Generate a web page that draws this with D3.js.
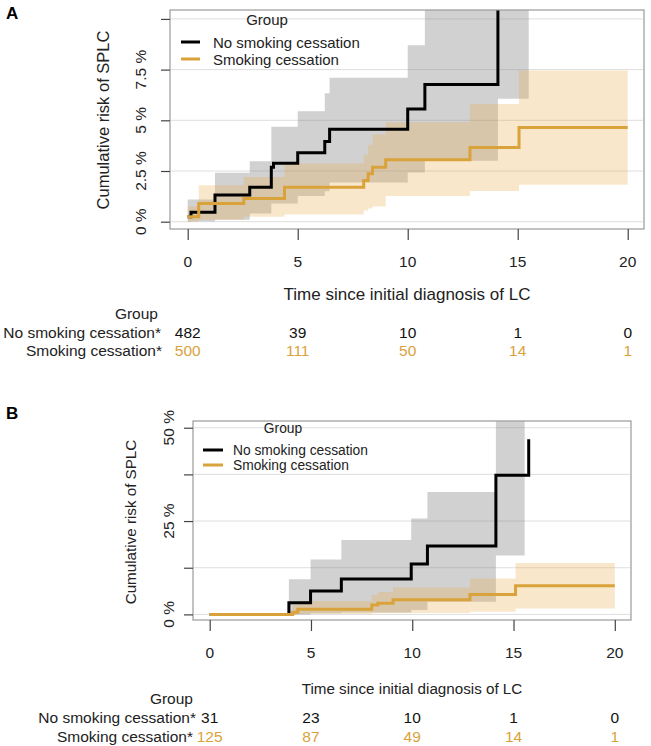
<!DOCTYPE html>
<html>
<head>
<meta charset="utf-8">
<script src="https://cdn.jsdelivr.net/npm/d3@7"></script>
<style>
  html, body { margin: 0; padding: 0; background: #fff; }
  svg { display: block; font-family: "Liberation Sans", Arial, Helvetica, sans-serif; }
</style>
</head>
<body>
<svg id="chart" width="651" height="746"></svg>
<script>
// ---------------- DATA ----------------
const groups = ["No smoking cessation", "Smoking cessation"];
const tableLabels = ["No smoking cessation*", "Smoking cessation*"];
const xTicks = [0, 5, 10, 15, 20];

// Panel A
const yTicksA = [0, 2.5, 5, 7.5, 10];
const yTickLabelsA = ["0 %", "2.5 %", "5 %", "7.5 %", ""];
const timeA_no = [0, 0.15, 1.24, 2.82, 3.8, 3.9, 5.0, 6.23, 6.45, 10.0, 10.78, 14.1, 15.5];
const riskA_no = [0.25, 0.47, 1.32, 1.70, 2.68, 2.88, 3.40, 3.95, 4.56, 5.56, 6.77, 13.0, 13.0];
const lowA_no  = [0, 0.02, 0.1, 0.4, 0.9, 0.9, 1.27, 1.5, 1.93, 2.43, 3.0, 6.06, 6.06];
const upA_no   = [1.1, 1.1, 2.42, 2.98, 4.68, 4.68, 5.45, 6.33, 7.1, 8.7, 14, 14, 14];
const timeA_ce = [0, 0.5, 2.55, 4.4, 8.0, 8.2, 8.4, 9.0, 12.83, 15.06, 20.0];
const riskA_ce = [0.25, 0.9, 1.15, 1.70, 2.03, 2.36, 2.69, 3.05, 3.66, 4.65, 4.65];
const lowA_ce  = [0, 0.1, 0.25, 0.35, 0.55, 0.65, 0.75, 1.27, 1.52, 1.82, 1.82];
const upA_ce   = [0.75, 1.8, 2.2, 2.87, 3.3, 3.8, 4.3, 4.9, 5.8, 7.46, 7.46];
const nRiskA_no = [482, 39, 10, 1, 0];
const nRiskA_ce = [500, 111, 50, 14, 1];

// Panel B
const yTicksB = [0, 12.5, 25, 37.5, 50];
const yTickLabelsB = ["0 %", "", "25 %", "", "50 %"];
const timeB_no = [0, 3.91, 4.98, 6.5, 9.95, 10.75, 14.13, 15.75];
const riskB_no = [0, 3.1, 6.24, 9.46, 13.5, 18.3, 37.3, 46.9];
const ciTimeB_no = [3.91, 4.98, 6.5, 9.95, 10.75, 14.13, 15.55];
const lowB_no  = [0, 0.3, 0.5, 1.15, 3.4, 15.8, 15.8];
const upB_no   = [9.4, 14.7, 19.9, 25.7, 32.8, 60, 60];
const timeB_ce = [0, 4.1, 4.35, 8.0, 8.3, 9.05, 12.85, 15.1, 20];
const riskB_ce = [0, 0.6, 1.4, 2.5, 3.0, 3.9, 5.35, 7.7, 7.7];
const lowB_ce  = [0, 0, 0.1, 0.3, 0.4, 0.4, 0.7, 1.6, 1.6];
const upB_ce   = [0, 2.5, 3.6, 5.2, 6.0, 7.2, 9.6, 13.8, 13.8];
const nRiskB_no = [31, 23, 10, 1, 0];
const nRiskB_ce = [125, 87, 49, 14, 1];

// ---------------- STYLE ----------------
const colBlack = "#000000";
const colOrange = "#D9A23A";
const fillGrey = "rgba(128,128,128,0.36)";
const fillOrange = "rgba(232,170,70,0.28)";

const svg = d3.select("#chart");

function zip(t, v) { return t.map((d, i) => ({ t: d, v: v[i] })); }
function zip3(t, lo, hi) { return t.map((d, i) => ({ t: d, lo: lo[i], hi: hi[i] })); }

function drawPanel(cfg) {
  const g = svg.append("g");
  const x = d3.scaleLinear().domain(cfg.xDomain).range([cfg.left, cfg.right]);
  const y = d3.scaleLinear().domain(cfg.yDomain).range([cfg.bottom, cfg.top]);

  const clipId = "clip" + cfg.id;
  svg.append("defs").append("clipPath").attr("id", clipId)
    .append("rect").attr("x", cfg.left).attr("y", cfg.top)
    .attr("width", cfg.right - cfg.left).attr("height", cfg.bottom - cfg.top);

  // gridlines
  g.selectAll(".grid").data(cfg.yTicks).join("line")
    .attr("x1", cfg.left + 1).attr("x2", cfg.right - 1)
    .attr("y1", d => y(d)).attr("y2", d => y(d))
    .attr("stroke", "#dedede").attr("stroke-width", 1);

  const plot = g.append("g").attr("clip-path", `url(#${clipId})`);
  const area = d3.area().curve(d3.curveStepAfter)
    .x(d => x(d.t)).y0(d => y(d.lo)).y1(d => y(d.hi));
  const line = d3.line().curve(d3.curveStepAfter).x(d => x(d.t)).y(d => y(d.v));

  plot.append("path").datum(cfg.ciNo).attr("d", area).attr("fill", fillGrey);
  plot.append("path").datum(cfg.ciCe).attr("d", area).attr("fill", fillOrange);
  plot.append("path").datum(cfg.lineNo).attr("d", line)
    .attr("fill", "none").attr("stroke", colBlack).attr("stroke-width", 3);
  plot.append("path").datum(cfg.lineCe).attr("d", line)
    .attr("fill", "none").attr("stroke", colOrange).attr("stroke-width", 3);

  // box
  g.append("rect").attr("x", cfg.left).attr("y", cfg.top)
    .attr("width", cfg.right - cfg.left).attr("height", cfg.bottom - cfg.top)
    .attr("fill", "none").attr("stroke", "#9a9a9a").attr("stroke-width", 1.2);

  // x axis
  const xAxis = d3.axisBottom(x).tickValues(xTicks).tickSize(11).tickPadding(5)
    .tickFormat(d3.format("d"));
  const xa = g.append("g").attr("transform", `translate(0,${cfg.bottom})`).call(xAxis);
  xa.select(".domain").remove();
  xa.selectAll(".tick line").attr("stroke", "#444").attr("stroke-width", 1.2);
  xa.selectAll(".tick text").remove();
  g.selectAll(".xlab").data(xTicks).join("text")
    .attr("x", d => x(d)).attr("y", cfg.xLabY)
    .attr("text-anchor", "middle").attr("dominant-baseline", "central")
    .attr("font-size", 15.5).attr("fill", "#222").text(d => d);

  // y axis
  const yAxis = d3.axisLeft(y).tickValues(cfg.yTicks).tickSize(9).tickFormat("");
  const ya = g.append("g").attr("transform", `translate(${cfg.left},0)`).call(yAxis);
  ya.select(".domain").remove();
  ya.selectAll(".tick line").attr("stroke", "#444").attr("stroke-width", 1.2);
  g.selectAll(".ylab").data(cfg.yTicks).join("text")
    .attr("transform", (d) => `translate(${cfg.yLabX},${y(d)}) rotate(-90)`)
    .attr("text-anchor", "middle").attr("dominant-baseline", "central")
    .attr("font-size", 15.5).attr("fill", "#222")
    .text((d, i) => cfg.yTickLabels[i]);

  // axis titles
  g.append("text")
    .attr("transform", `translate(${cfg.yTitleX},${cfg.yTitleY}) rotate(-90)`)
    .attr("text-anchor", "middle").attr("dominant-baseline", "central")
    .attr("font-size", cfg.yTitleSize).attr("fill", "#222")
    .text("Cumulative risk of SPLC");
  g.append("text").attr("x", cfg.xTitleX).attr("y", cfg.xTitleY)
    .attr("text-anchor", "middle").attr("dominant-baseline", "central")
    .attr("font-size", cfg.xTitleSize).attr("fill", "#222")
    .text("Time since initial diagnosis of LC");

  // panel letter
  g.append("text").attr("x", 6).attr("y", cfg.letterY)
    .attr("font-size", 17).attr("font-weight", "bold").attr("fill", "#000")
    .text(cfg.letter);

  // legend
  g.append("text").attr("x", cfg.legGroupX).attr("y", cfg.legGroupY)
    .attr("text-anchor", "middle").attr("dominant-baseline", "central")
    .attr("font-size", cfg.legSize).attr("fill", "#222").text("Group");
  const legCols = [colBlack, colOrange];
  groups.forEach((name, i) => {
    const ly = cfg.legY[i];
    g.append("line").attr("x1", cfg.legLineX[0]).attr("x2", cfg.legLineX[1])
      .attr("y1", ly).attr("y2", ly).attr("stroke", legCols[i]).attr("stroke-width", 3);
    g.append("text").attr("x", cfg.legTextX).attr("y", ly)
      .attr("dominant-baseline", "central").attr("font-size", cfg.legSize)
      .attr("fill", "#222").text(name);
  });

  // number at risk table
  g.append("text").attr("x", cfg.tabGroupX).attr("y", cfg.tabGroupY)
    .attr("text-anchor", "end").attr("dominant-baseline", "central")
    .attr("font-size", 15.5).attr("fill", "#222").text("Group");
  const rows = [cfg.nNo, cfg.nCe];
  rows.forEach((vals, i) => {
    const ry = cfg.tabRowY[i];
    g.append("text").attr("x", cfg.tabLabelX[i]).attr("y", ry)
      .attr("text-anchor", "end").attr("dominant-baseline", "central")
      .attr("font-size", 15.5).attr("fill", "#222").text(tableLabels[i]);
    g.selectAll(".n" + i).data(vals).join("text")
      .attr("x", (d, j) => x(xTicks[j])).attr("y", ry)
      .attr("text-anchor", "middle").attr("dominant-baseline", "central")
      .attr("font-size", 15.5).attr("fill", i === 0 ? "#111" : colOrange)
      .text(d => d);
  });
}

drawPanel({
  id: "A", letter: "A", letterY: 19,
  left: 170, right: 644, top: 10, bottom: 229,
  xDomain: [-0.805, 20.74], yDomain: [-0.36, 10.44],
  yTicks: yTicksA, yTickLabels: yTickLabelsA,
  lineNo: zip(timeA_no, riskA_no), lineCe: zip(timeA_ce, riskA_ce),
  ciNo: zip3(timeA_no, lowA_no, upA_no), ciCe: zip3(timeA_ce, lowA_ce, upA_ce),
  xLabY: 261, yLabX: 140,
  yTitleX: 103, yTitleY: 120, yTitleSize: 16.5,
  xTitleX: 407, xTitleY: 294, xTitleSize: 17,
  legGroupX: 267, legGroupY: 19, legSize: 15,
  legY: [42, 59], legLineX: [181, 200], legTextX: 213,
  tabLabelX: [161, 162], tabGroupX: 158, tabGroupY: 313, tabRowY: [332, 350],
  nNo: nRiskA_no, nCe: nRiskA_ce
});

drawPanel({
  id: "B", letter: "B", letterY: 419,
  left: 193, right: 631, top: 421, bottom: 620,
  xDomain: [-0.824, 20.8], yDomain: [-1.5, 51.8],
  yTicks: yTicksB, yTickLabels: yTickLabelsB,
  lineNo: zip(timeB_no, riskB_no), lineCe: zip(timeB_ce, riskB_ce),
  ciNo: zip3(ciTimeB_no, lowB_no, upB_no), ciCe: zip3(timeB_ce, lowB_ce, upB_ce),
  xLabY: 652, yLabX: 168,
  yTitleX: 130, yTitleY: 522, yTitleSize: 15.2,
  xTitleX: 412, xTitleY: 688, xTitleSize: 15.2,
  legGroupX: 283, legGroupY: 428, legSize: 13.8,
  legY: [450, 465], legLineX: [203, 223], legTextX: 233,
  tabLabelX: [196, 193], tabGroupX: 193, tabGroupY: 698, tabRowY: [717, 736],
  nNo: nRiskB_no, nCe: nRiskB_ce
});
</script>
</body>
</html>
